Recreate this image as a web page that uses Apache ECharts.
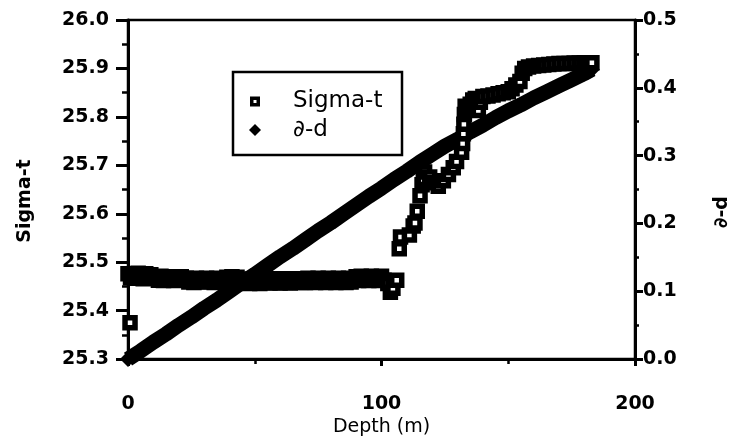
<!DOCTYPE html>
<html>
<head>
<meta charset="utf-8">
<script src="https://cdn.jsdelivr.net/npm/echarts@6/dist/echarts.min.js"></script>
<style>html,body{margin:0;padding:0;background:#fff}#c{width:732px;height:442px}</style>
</head>
<body>
<div id="c"></div>
<script>
// ---- Data ----
var xTicks = [0, 100, 200];
var sigmaTicks = [25.3, 25.4, 25.5, 25.6, 25.7, 25.8, 25.9, 26.0];
var ddTicks = [0.0, 0.1, 0.2, 0.3, 0.4, 0.5];

// Sigma-t (open squares): depth (m)
var sigmaDepth = [
  0.8,
  0,1,2,3,4,5,6,7,8,9,10,
  11,12,13,14,15,16,17,18,19,20,21,22,
  23,24,25,26,27,28,29,30,31,32,33,34,35,36,37,38,
  39,40,41,42,43,44,
  45,46,47,48,49,50,51,52,53,
  54,55,56,57,58,59,60,61,62,63,64,65,66,67,68,
  69,70,71,72,73,74,75,76,77,78,79,80,81,82,83,84,85,86,87,88,89,
  90,91,92,93,94,95,96,97,98,99,100,101,
  102.5,103.5,104.5,106,
  107,107.5,111,112.5,113.2,114.1,115.2,116,116.5,117,
  119,121,122.4,124.4,126.4,128.3,129.6,131.6,
  132,132.3,132.5,132.7,133,134,135,136,137,138.2,139,140,142,144,146,148,150,151.5,153,154.6,
  155.5,156.5,158,160,162,164,166,168,170,172,174,176,178,180,182,183
];
// Sigma-t values
var sigmaT = [
  25.375,
  25.476,25.468,25.475,25.467,25.477,25.470,25.466,25.476,25.468,25.474,25.467,
  25.470,25.463,25.471,25.462,25.469,25.464,25.470,25.462,25.468,25.463,25.470,25.463,
  25.467,25.459,25.466,25.458,25.467,25.460,25.466,25.459,25.467,25.460,25.466,25.458,25.467,25.459,25.466,25.460,
  25.469,25.461,25.470,25.462,25.469,25.461,
  25.465,25.457,25.464,25.456,25.465,25.457,25.464,25.456,25.465,
  25.458,25.466,25.457,25.465,25.458,25.466,25.457,25.465,25.458,25.466,25.457,25.465,25.459,25.466,25.458,
  25.466,25.458,25.467,25.459,25.466,25.458,25.467,25.459,25.466,25.458,25.467,25.459,25.466,25.458,25.467,25.459,25.466,25.458,25.467,25.459,25.466,
  25.470,25.462,25.471,25.463,25.470,25.462,25.471,25.463,25.470,25.462,25.471,25.463,
  25.456,25.438,25.446,25.463,
  25.528,25.552,25.556,25.575,25.581,25.605,25.637,25.660,25.671,25.686,
  25.676,25.664,25.657,25.668,25.681,25.695,25.708,25.727,
  25.745,25.765,25.785,25.805,25.822,25.815,25.826,25.835,25.838,25.813,25.830,25.842,25.843,25.845,25.848,25.850,25.852,25.858,25.866,25.873,
  25.890,25.900,25.903,25.905,25.906,25.907,25.908,25.909,25.910,25.910,25.910,25.911,25.911,25.912,25.912,25.912
];

// d-d (filled diamonds): depth (m) and value
var ddDepth = [0,5,10,15,20,25,30,35,40,45,50,55,60,65,70,75,80,85,90,95,100,105,110,115,120,125,130,135,140,145,150,155,160,165,170,175,180,183];
var ddValue = [0.000,0.012,0.025,0.037,0.050,0.062,0.075,0.087,0.100,0.113,0.125,0.138,0.151,0.163,0.176,0.189,0.201,0.214,0.227,0.240,0.252,0.265,0.277,0.290,0.302,0.314,0.324,0.335,0.345,0.356,0.366,0.375,0.385,0.394,0.403,0.412,0.421,0.427];

var seriesNames = ['Sigma-t', '\u2202-d'];
var axisNames = {x: 'Depth (m)', left: 'Sigma-t', right: '\u2202-d'};

// ---- Build ----
var sigmaData = sigmaDepth.map(function (d, i) { return [d, sigmaT[i]]; });
var ddData = ddDepth.map(function (d, i) { return [d, ddValue[i]]; });

var FONT = 'DejaVu Sans';
var chart = echarts.init(document.getElementById('c'), null, {renderer: 'canvas'});
var boldLabel = {fontFamily: FONT, fontWeight: 'bold', fontSize: 19, color: '#000'};

chart.setOption({
  animation: false,
  backgroundColor: '#fff',
  grid: {left: 128, right: 97, top: 20, bottom: 78, show: true, borderColor: '#000', borderWidth: 2.5, backgroundColor: 'transparent'},
  xAxis: {
    type: 'value', min: xTicks[0], max: xTicks[xTicks.length - 1], interval: 100,
    name: axisNames.x, nameLocation: 'middle', nameGap: 51,
    nameTextStyle: {fontFamily: FONT, fontSize: 19, color: '#000'},
    axisLine: {show: true, lineStyle: {color: '#000', width: 3}},
    axisTick: {show: true, inside: false, length: 7, lineStyle: {color: '#000', width: 3}},
    minorTick: {show: true, splitNumber: 2, length: 5, lineStyle: {color: '#000', width: 2.5}},
    axisLabel: Object.assign({margin: 35, formatter: function (v) { return String(v); }}, boldLabel),
    splitLine: {show: false}
  },
  yAxis: [{
    type: 'value', position: 'left', min: sigmaTicks[0], max: sigmaTicks[sigmaTicks.length - 1], interval: 0.1,
    axisLine: {show: true, onZero: false, lineStyle: {color: '#000', width: 3}},
    axisTick: {show: true, inside: false, length: 12, lineStyle: {color: '#000', width: 3}},
    minorTick: {show: true, splitNumber: 2, length: 6, lineStyle: {color: '#000', width: 2.5}},
    axisLabel: Object.assign({margin: 19, formatter: function (v) { return v.toFixed(1); }}, boldLabel),
    splitLine: {show: false}
  }, {
    type: 'value', position: 'right', min: ddTicks[0], max: ddTicks[ddTicks.length - 1], interval: 0.1,
    axisLine: {show: true, onZero: false, lineStyle: {color: '#000', width: 3}},
    axisTick: {show: true, inside: false, length: 8, lineStyle: {color: '#000', width: 3}},
    minorTick: {show: true, splitNumber: 2, length: 4, lineStyle: {color: '#000', width: 2.5}},
    axisLabel: Object.assign({margin: 8, formatter: function (v) { return v.toFixed(1); }}, boldLabel),
    splitLine: {show: false}
  }],
  legend: [{
    data: [{name: seriesNames[0], icon: 'path://M0,0H10V10H0ZM3.5,3.5V6.5H6.5V3.5Z', itemStyle: {color: '#000', borderWidth: 0}}],
    left: 250, top: 90, padding: 0, itemWidth: 10, itemHeight: 10,
    textStyle: {fontFamily: FONT, fontSize: 23, color: '#000', lineHeight: 23, padding: [0, 0, 0, 28]}
  }, {
    data: [{name: seriesNames[1], icon: 'diamond', itemStyle: {color: '#000', borderWidth: 0}}],
    left: 249, top: 118.5, padding: 0, itemWidth: 12, itemHeight: 12,
    textStyle: {fontFamily: FONT, fontSize: 23, color: '#000', lineHeight: 23, padding: [0, 0, 0, 27]}
  }],
  graphic: [
    {type: 'rect', shape: {x: 233, y: 72, width: 169, height: 83}, style: {fill: 'none', stroke: '#000', lineWidth: 2.5}, z: 100},
    {type: 'text', x: 25, y: 201, rotation: Math.PI / 2, style: {text: axisNames.left, fontFamily: FONT, fontWeight: 'bold', fontSize: 19, fill: '#000', align: 'center', verticalAlign: 'middle'}},
    {type: 'text', x: 722, y: 212, rotation: Math.PI / 2, style: {text: axisNames.right, fontFamily: FONT, fontWeight: 'bold', fontSize: 19, fill: '#000', align: 'center', verticalAlign: 'middle'}}
  ],
  series: [{
    name: seriesNames[1], type: 'line', yAxisIndex: 1, data: ddData,
    symbol: 'diamond', symbolSize: 16, showSymbol: true, showAllSymbol: true,
    lineStyle: {color: '#000', width: 15}, itemStyle: {color: '#000'}, z: 2
  }, {
    name: seriesNames[0], type: 'scatter', yAxisIndex: 0, data: sigmaData,
    symbol: 'rect', symbolSize: 10,
    itemStyle: {color: '#fff', borderColor: '#000', borderWidth: 5.5, opacity: 1}, z: 3
  }]
});
</script>
</body>
</html>
